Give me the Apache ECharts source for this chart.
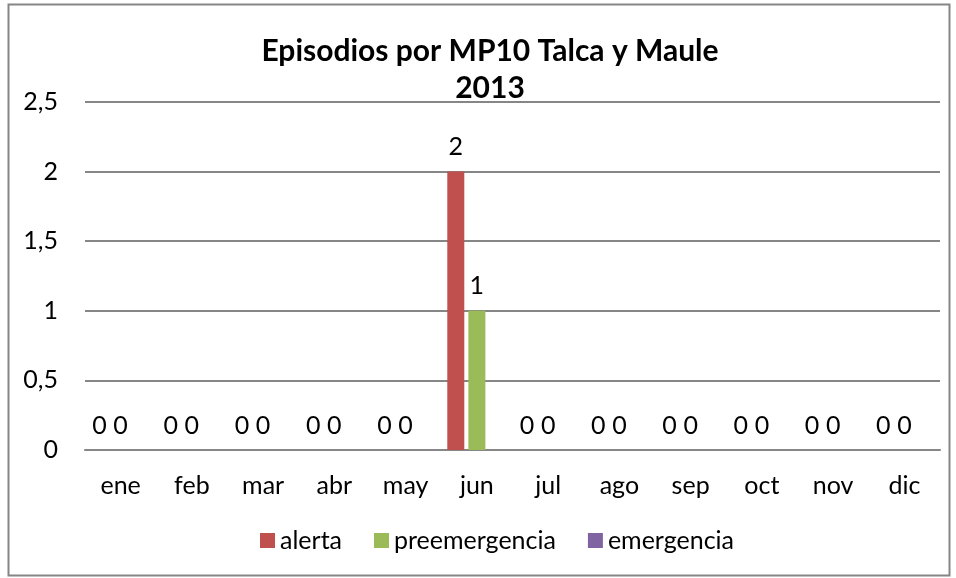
<!DOCTYPE html>
<html><head><meta charset="utf-8">
<script src="https://cdn.jsdelivr.net/npm/echarts@6/dist/echarts.min.js"></script>
<style>html,body{margin:0;padding:0;background:#fff}#c{width:956px;height:578px}</style>
</head><body><div id="c"></div>
<script>
const categories = ['ene','feb','mar','abr','may','jun','jul','ago','sep','oct','nov','dic'];
const alerta = [0,0,0,0,0,2,0,0,0,0,0,0];
const preemergencia = [0,0,0,0,0,1,0,0,0,0,0,0];
const emergencia = [null,null,null,null,null,null,null,null,null,null,null,null];
const yTicks = [0,0.5,1,1.5,2,2.5];

const FONT = 'Lato, "Open Sans", sans-serif';
const FS = 25;
const chart = echarts.init(document.getElementById('c'), null, {renderer:'canvas'});
const lbl = {show:true, position:'top', distance:12, color:'#000', fontSize:FS, fontFamily:FONT};
chart.setOption({
  animation:false,
  backgroundColor:'#fff',
  graphic:[{type:'rect', shape:{x:8.5,y:4.5,width:941,height:571}, style:{fill:'none', stroke:'#868686', lineWidth:2}, silent:true}],
  title:{
    text:'Episodios por MP10 Talca y Maule\n2013',
    left:485, top:28,
    textAlign:'center',
    textStyle:{fontFamily:FONT, fontWeight:'bold', fontSize:30, color:'#000', lineHeight:37}
  },
  legend:{
    bottom:20, left:255,
    itemWidth:15, itemHeight:15, itemGap:32,
    icon:'rect',
    textStyle:{fontFamily:FONT, fontSize:FS, color:'#000'},
    data:['alerta','preemergencia','emergencia']
  },
  grid:{left:85, right:16, top:102, bottom:128},
  xAxis:{
    type:'category', data:categories,
    axisLine:{lineStyle:{color:'#868686', width:2}},
    axisTick:{show:false},
    axisLabel:{margin:23, color:'#000', fontSize:FS, fontFamily:FONT}
  },
  yAxis:{
    type:'value', min:0, max:2.5, interval:0.5,
    axisLine:{show:false}, axisTick:{show:false},
    splitLine:{lineStyle:{color:'#868686', width:2}},
    axisLabel:{margin:27, color:'#000', fontSize:FS, fontFamily:FONT,
      formatter:v => String(v).replace('.', ',')}
  },
  series:[
    {name:'alerta', type:'bar', data:alerta, barWidth:17, barGap:'24%', itemStyle:{color:'#C0504D'}, label:lbl},
    {name:'preemergencia', type:'bar', data:preemergencia, barWidth:17, barGap:'24%', itemStyle:{color:'#9BBB59'}, label:lbl},
    {name:'emergencia', type:'bar', data:emergencia, barWidth:17, barGap:'24%', itemStyle:{color:'#8064A2'}, label:lbl}
  ]
});
</script></body></html>
